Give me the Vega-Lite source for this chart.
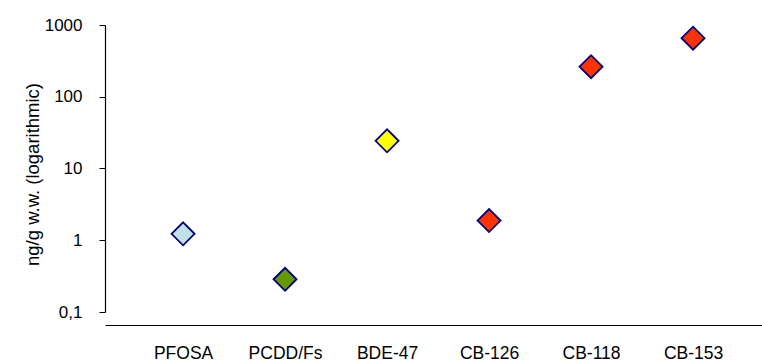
{
  "$schema": "https://vega.github.io/schema/vega-lite/v6.json",
  "autosize": "none",
  "padding": {"left": 105, "top": 25, "right": 0, "bottom": 51},
  "width": 657,
  "height": 287,
  "background": "white",
  "config": {"view": {"stroke": null}, "font": "Liberation Sans"},
  "data": {"values": [
    {"compound": "PFOSA", "group": "PFOSA", "value": 1.23},
    {"compound": "PCDD/Fs", "group": "PCDD/Fs", "value": 0.286},
    {"compound": "BDE-47", "group": "PBDE", "value": 24.3},
    {"compound": "CB-126", "group": "PCB", "value": 1.88},
    {"compound": "CB-118", "group": "PCB", "value": 262},
    {"compound": "CB-153", "group": "PCB", "value": 655}
  ]},
  "mark": {"type": "point", "shape": "diamond", "filled": true, "size": 530, "stroke": "#000080", "strokeWidth": 1.8, "opacity": 1},
  "encoding": {
    "x": {
      "field": "compound", "type": "nominal", "sort": null,
      "scale": {"type": "point", "padding": 0.7206, "align": 0.531},
      "axis": {
        "title": null, "orient": "bottom", "offset": 13, "ticks": false,
        "domainColor": "black", "domainWidth": 1.2, "labelAngle": 0,
        "labelFontSize": 17.5, "labelColor": "black", "labelPadding": 19,
        "grid": false
      }
    },
    "y": {
      "field": "value", "type": "quantitative",
      "scale": {"type": "log", "domain": [0.1, 1000], "nice": false},
      "axis": {
        "title": "ng/g w.w. (logarithmic)", "titleFontSize": 18.5, "titleFontWeight": "normal",
        "titleColor": "black", "titleAngle": -90, "titleX": -73, "titleY": 149,
        "titleAlign": "center", "titleBaseline": "middle",
        "values": [0.1, 1, 10, 100, 1000],
        "labelExpr": "datum.value < 1 ? '0,1' : format(datum.value, 'd')",
        "labelFontSize": 17, "labelColor": "black", "labelPadding": 17,
        "tickSize": 6, "tickColor": "black", "domainColor": "black", "domainWidth": 1.2,
        "grid": false
      }
    },
    "color": {
      "field": "group", "type": "nominal",
      "scale": {"domain": ["PFOSA", "PCDD/Fs", "PBDE", "PCB"], "range": ["#BFE1E6", "#669900", "#FFFF00", "#FF3300"]},
      "legend": null
    }
  }
}
